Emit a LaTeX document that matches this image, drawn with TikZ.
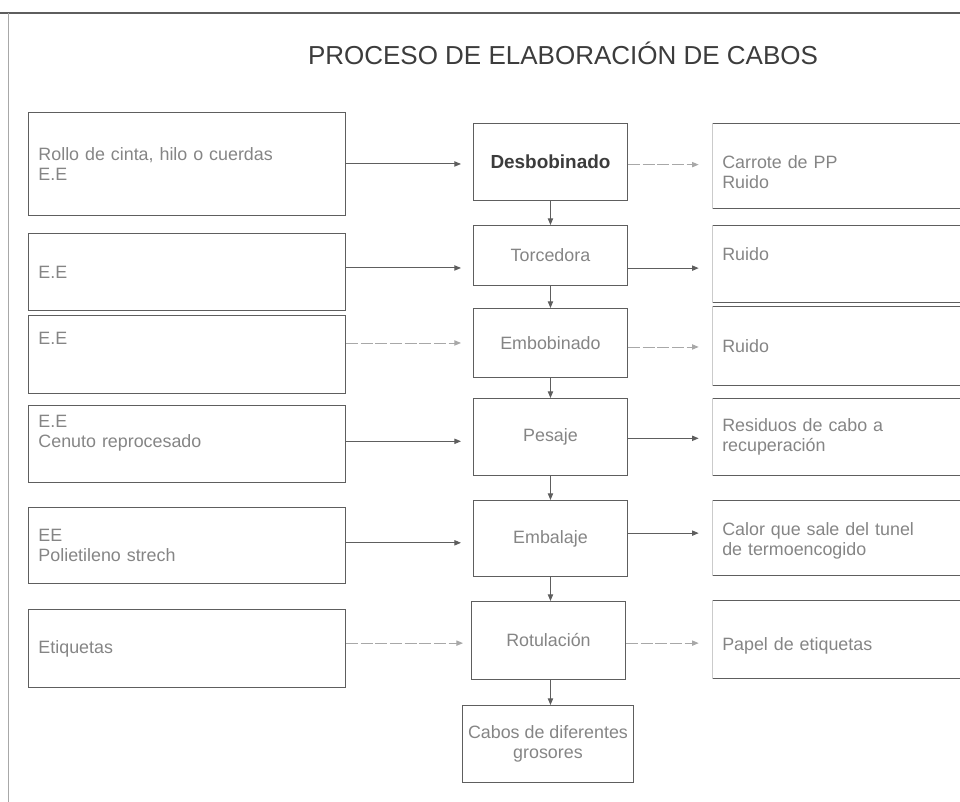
\documentclass[tikz,border=0pt]{standalone}
\usepackage{fontspec}
\setmainfont{Liberation Sans}
\usetikzlibrary{arrows.meta}
\definecolor{ln}{HTML}{5E5E5E}
\definecolor{lnf}{HTML}{A8A8A8}
\definecolor{tx}{HTML}{858585}
\definecolor{dk}{HTML}{3C3C3C}
\newcommand{\dnshift}[1]{\rule{0pt}{#1}}
\begin{document}
\begin{tikzpicture}[x=0.75pt,y=-0.75pt,
  basebox/.style={rectangle,anchor=north west,inner ysep=0pt,font=\fontsize{13.4}{15}\selectfont,text=tx},
  lbox/.style={basebox,draw=ln,line width=0.7pt,text width=222.75pt,inner xsep=7.5pt,align=left},
  cbox/.style={basebox,draw=ln,line width=0.7pt,minimum width=115.5pt,inner xsep=1pt,align=center},
  rbox/.style={basebox,draw=none,text width=182.25pt,inner xsep=7.5pt,align=left},
  arr/.style={draw=ln,line width=0.7pt,-{Triangle[length=5pt,width=4pt]}},
  farr/.style={arr,draw=lnf,dash pattern=on 9pt off 2pt},
  redge/.style={draw=ln,line width=0.7pt},
  fedge/.style={draw=lnf!60,line width=0.5pt}]
\useasboundingbox (0,0) rectangle (960,802);
\clip (0,0) rectangle (960,802);
% page frame
\draw[ln,line width=0.9pt] (0,13) -- (960,13);
\draw[lnf,line width=0.6pt] (8,13) -- (8,802);
% title
\node[font=\fontsize{19.5}{22}\selectfont,text=dk] (title) at (563,53) {PROCESO DE ELABORACIÓN DE CABOS};
% left boxes
\node[lbox,minimum height=77.25pt] (L1) at (28,112) {Rollo de cinta, hilo o cuerdas\\E.E};
\node[lbox,minimum height=57.75pt] (L2) at (28,233) {E.E};
\node[lbox,minimum height=58.5pt] (L3) at (28,315) {E.E\\[4pt]\strut};
\node[lbox,minimum height=57.75pt] (L4) at (28,405) {E.E\\Cenuto reprocesado\\\strut};
\node[lbox,minimum height=57pt] (L5) at (28,507) {EE\\Polietileno strech};
\node[lbox,minimum height=58.5pt] (L6) at (28,609) {Etiquetas};
% center boxes
\node[cbox,minimum height=57.75pt,font=\fontsize{14.2}{16}\selectfont\bfseries,text=dk] (C1) at (473,123) {Desbobinado};
\node[cbox,minimum height=45pt] (C2) at (473,225) {Torcedora};
\node[cbox,minimum height=51.75pt] (C3) at (473,308) {Embobinado};
\node[cbox,minimum height=57.75pt] (C4) at (473,398) {Pesaje};
\node[cbox,minimum height=57pt] (C5) at (473,500) {Embalaje};
\node[cbox,minimum height=58.5pt] (C6) at (471,601) {Rotulación};
\node[cbox,minimum width=128.25pt,minimum height=57.75pt] (C7) at (462,705) {Cabos de diferentes\\grosores};
% right boxes
\node[rbox,minimum height=63.75pt] (R1) at (712,123) {\dnshift{19.5pt}Carrote de PP\\Ruido};
\node[rbox,minimum height=57.75pt] (R2) at (712,225) {Ruido\\[-5pt]\strut};
\node[rbox,minimum height=59.25pt] (R3) at (712,306) {Ruido};
\node[rbox,minimum height=57.75pt] (R4) at (712,398) {Residuos de cabo a\\recuperación};
\node[rbox,minimum height=56.25pt] (R5) at (712,500) {\dnshift{15pt}Calor que sale del tunel\\de termoencogido};
\node[rbox,minimum height=58.5pt] (R6) at (712,600) {\dnshift{19pt}Papel de etiquetas};
\foreach \r in {R1,R2,R3,R4,R5,R6}{
  \draw[redge] (\r.north west) -- (\r.north east);
  \draw[redge] (\r.south west) -- (\r.south east);
  \draw[fedge] (\r.north west) -- (\r.south west);
}
% inputs
\draw[arr,shorten >=9pt] (L1.east) -- (L1.east -| C1.west);
\draw[arr,shorten >=9pt] ([yshift=3pt]L2.east) -- ([yshift=3pt]L2.east -| C2.west);
\draw[farr,shorten >=9pt] (C3.west -| L3.east) -- (C3.west);
\draw[arr,shorten >=9pt] ([yshift=2pt]L4.east) -- ([yshift=2pt]L4.east -| C4.west);
\draw[arr,shorten >=9pt] ([yshift=2pt]L5.east) -- ([yshift=2pt]L5.east -| C5.west);
\draw[farr,shorten >=6pt] ([yshift=-2pt]C6.west -| L6.east) -- ([yshift=-2pt]C6.west);
% outputs
\draw[farr,shorten >=10pt] ([yshift=-2pt]C1.east) -- ([yshift=-2pt]C1.east -| R1.west);
\draw[arr,shorten >=10pt] ([yshift=-9.5pt]C2.east) -- ([yshift=-9.5pt]C2.east -| R2.west);
\draw[farr,shorten >=10pt] ([yshift=-3pt]C3.east) -- ([yshift=-3pt]C3.east -| R3.west);
\draw[arr,shorten >=10pt] ([yshift=-1pt]C4.east) -- ([yshift=-1pt]C4.east -| R4.west);
\draw[arr,shorten >=10pt] ([yshift=4pt]C5.east) -- ([yshift=4pt]C5.east -| R5.west);
\draw[farr,shorten >=10pt] ([yshift=-2pt]C6.east) -- ([yshift=-2pt]C6.east -| R6.west);
% flow
\draw[arr] (C1.south) -- (C2.north);
\draw[arr] (C2.south) -- (C3.north);
\draw[arr] (C3.south) -- (C4.north);
\draw[arr] (C4.south) -- (C5.north);
\draw[arr] (C5.south) -- (C5.south |- C6.north);
\draw[arr] (C5.south |- C6.south) -- (C5.south |- C7.north);
\end{tikzpicture}
\end{document}
